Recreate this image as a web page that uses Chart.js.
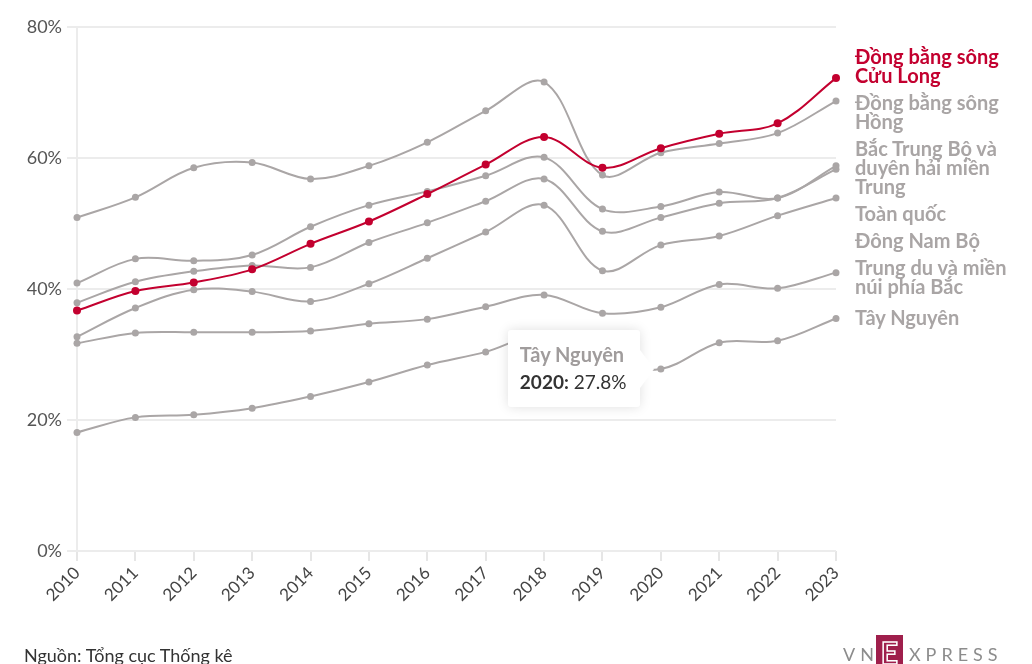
<!DOCTYPE html>
<html lang="vi">
<head>
<meta charset="utf-8">
<script src="https://cdn.jsdelivr.net/npm/chart.js@4.4.1/dist/chart.umd.min.js"></script>
<style>
  html, body { margin: 0; padding: 0; background: #fff; overflow: hidden; }
  #wrap { position: relative; width: 1032px; height: 664px; font-family: Lato, "Noto Sans", sans-serif; }
  canvas { position: absolute; left: 0; top: 0; }
  .lbl { position: absolute; width: 172px; font-weight: 700; font-size: 20px; line-height: 19px; color: #a9a5a5; }
  .lbl.hl { color: #c3002f; }
  #tip { position: absolute; background: #fff; border-radius: 3px; padding: 11px 14px 12px 12px;
         box-shadow: 0 0 12px rgba(0,0,0,0.13); font-size: 19px; line-height: 27px; color: #333; white-space: nowrap; }
  #tip .t { font-weight: 700; font-size: 20px; color: #a09c9c; }
  #tip b { font-weight: 700; }
  #tip:after { content: ""; position: absolute; right: -14px; top: 50%; margin-top: -19px;
               border-left: 14px solid #fff; border-top: 19px solid transparent; border-bottom: 19px solid transparent; }
  #src { position: absolute; left: 24px; top: 646px; font-size: 18px; line-height: 18px; color: #333; }
  #logo { position: absolute; left: 843px; top: 635px; height: 40px; font-size: 18px; color: #8c8c8c; letter-spacing: 5px; }
  #logo span { display: inline-block; vertical-align: top; }
  #logo .e { background: #9f1f4c; color: #9f1f4c; width: 27px; height: 34px; text-align: center; font-size: 30px; font-weight: 700;
             line-height: 34px; letter-spacing: 0; margin: 0 6px 0 -3px; -webkit-text-stroke: 1.5px #fff; }
  #logo .v { margin-top: 11px; line-height: 16px; }
</style>
</head>
<body>
<div id="wrap">
  <canvas id="chart" width="1032" height="664"></canvas>
  <div id="tip"></div>
  <div id="src">Nguồn: Tổng cục Thống kê</div>
  <div id="logo"><span class="v">VN</span><span class="e">E</span><span class="v">XPRESS</span></div>
</div>
<script>
const years = ['2010', '2011', '2012', '2013', '2014', '2015', '2016', '2017', '2018', '2019', '2020', '2021', '2022', '2023']
const yTicks = [0, 20, 40, 60, 80]

const names = ['Đồng bằng sông Cửu Long', 'Đồng bằng sông Hồng', 'Bắc Trung Bộ và duyên hải miền Trung',
  'Toàn quốc', 'Đông Nam Bộ', 'Trung du và miền núi phía Bắc', 'Tây Nguyên']

const cuuLong   = [36.7, 39.7, 41.0, 43.0, 46.9, 50.3, 54.5, 59.0, 63.2, 58.5, 61.5, 63.7, 65.3, 72.2]
const hong      = [50.9, 54.0, 58.5, 59.3, 56.8, 58.8, 62.4, 67.2, 71.6, 57.4, 60.8, 62.2, 63.8, 68.7]
const bacTrung  = [40.9, 44.6, 44.3, 45.2, 49.5, 52.8, 54.9, 57.3, 60.1, 52.2, 52.6, 54.8, 53.9, 58.8]
const toanQuoc  = [37.9, 41.1, 42.7, 43.6, 43.3, 47.1, 50.1, 53.4, 56.8, 48.8, 50.9, 53.1, 53.9, 58.3]
const dongNam   = [32.7, 37.1, 39.9, 39.6, 38.1, 40.8, 44.7, 48.7, 52.8, 42.8, 46.7, 48.1, 51.2, 53.9]
const trungDu   = [31.7, 33.3, 33.4, 33.4, 33.6, 34.7, 35.4, 37.3, 39.1, 36.3, 37.2, 40.7, 40.1, 42.5]
const tayNguyen = [18.1, 20.4, 20.8, 21.8, 23.6, 25.8, 28.4, 30.4, 33.0, 29.0, 27.8, 31.8, 32.1, 35.5]

const series = [cuuLong, hong, bacTrung, toanQuoc, dongNam, trungDu, tayNguyen]
const tipSeries = 6, tipYear = 10

const RED = '#c3002f'
const GREY = '#aaa6a6'

const datasets = series.map((d, i) => ({
  label: names[i],
  data: d,
  borderColor: i === 0 ? RED : GREY,
  backgroundColor: i === 0 ? RED : GREY,
  borderWidth: 2,
  pointRadius: i === 0 ? 4 : 3.5,
  pointBorderWidth: 0,
  tension: 0.35,
  fill: false
}))

const chart = new Chart(document.getElementById('chart'), {
  type: 'line',
  data: { labels: years, datasets: datasets },
  options: {
    responsive: false,
    animation: false,
    layout: { padding: { top: 27, right: 196, left: 0, bottom: 0 } },
    plugins: { legend: { display: false }, tooltip: { enabled: false } },
    events: [],
    scales: {
      x: {
        afterFit: s => { s.height = 113 },
        grid: { drawOnChartArea: false, drawTicks: true, tickLength: 10, color: '#e6e6e6', lineWidth: 2 },
        border: { display: false },
        ticks: { minRotation: 45, maxRotation: 45, color: '#444', font: { family: 'Lato', size: 17 }, padding: 2 }
      },
      y: {
        min: 0, max: 80,
        afterFit: s => { s.width = 77 },
        afterBuildTicks: s => { s.ticks = yTicks.map(v => ({ value: v })) },
        grid: { color: '#ececec', lineWidth: 2, tickLength: 10 },
        border: { color: '#ececec', width: 2 },
        ticks: { color: '#555', font: { family: 'Lato', size: 18 }, padding: 5, callback: v => v + '%' }
      }
    }
  }
})

// end labels on the right, pushed apart when they collide
const wrap = document.getElementById('wrap')
const items = series.map((d, i) => {
  const pt = chart.getDatasetMeta(i).data[d.length - 1]
  const el = document.createElement('div')
  el.className = 'lbl' + (i === 0 ? ' hl' : '')
  el.textContent = names[i]
  el.style.left = (pt.x + 19) + 'px'
  wrap.appendChild(el)
  return { el: el, y: pt.y, h: el.offsetHeight }
}).sort((a, b) => a.y - b.y)

const gap = 8
let prevBottom = -Infinity
items.forEach((it, i) => {
  it.want = it.y - it.h / 2
  it.top = Math.max(it.want, prevBottom + gap)
  const prev = items[i - 1]
  if (prev && it.top > it.want && prev.top === prev.want) {
    const above = items[i - 2]
    const room = prev.top - (above ? above.top + above.h + gap : 0)
    const s = Math.min((it.top - it.want) / 2, room)
    prev.top -= s
    it.top -= s
  }
  prevBottom = it.top + it.h
})
items.forEach(it => { it.el.style.top = (it.top - 1) + 'px' })

// fixed tooltip on Tây Nguyên 2020
const tp = chart.getDatasetMeta(tipSeries).data[tipYear]
const tip = document.getElementById('tip')
tip.innerHTML = '<div class="t">' + names[tipSeries] + '</div><div><b>' + years[tipYear] + ':</b> ' +
  series[tipSeries][tipYear].toFixed(1) + '%</div>'
tip.style.left = (tp.x - 20 - tip.offsetWidth) + 'px'
tip.style.top = (tp.y - tip.offsetHeight / 2) + 'px'
</script>
</body>
</html>
